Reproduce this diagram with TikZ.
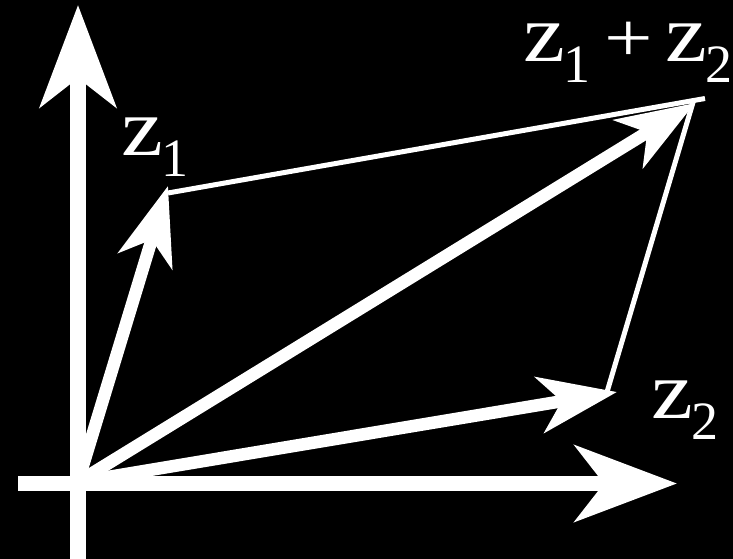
\documentclass[tikz,border=0pt]{standalone}
\usepackage{fontspec}
\setmainfont{Liberation Serif}
\usetikzlibrary{arrows.meta}
\newcommand\myz{\scalebox{1.15}[1]{z}}
\newcommand\mysub[1]{\kern-1.5pt\raisebox{-21pt}{\fontsize{54}{54}\selectfont #1}}
\newcommand\myplus{\scalebox{1.05}[0.85]{+}}
\begin{document}
\begin{tikzpicture}[x=1pt,y=-1pt,line cap=butt,
  axis/.style={draw=white,line width=15.5pt,-{Stealth[length=102pt,width=76pt,inset=29pt]}},
  vec/.style={draw=white,line width=12.5pt,-{Stealth[length=78pt,width=56pt,inset=22pt]}},
  side/.style={draw=white,line width=5pt},
  lbl/.style={text=white,inner sep=0pt,anchor=base west,text height=40pt,text depth=0pt,font=\fontsize{82}{82}\selectfont}]
\fill[black] (0,0) rectangle (733,559);
\useasboundingbox (0,0) rectangle (733,559);
% axes
\coordinate (xs) at (18,483.5);
\coordinate (xe) at (677,483.5);
\coordinate (ys) at (78,559);
\coordinate (ye) at (78,5);
\draw[axis] (xs) -- (xe);
\draw[axis] (ys) -- (ye);
% points
\coordinate (O) at (78,482);
\coordinate (A) at (168,186);
\coordinate (B) at (617,392);
\coordinate (S) at (695,103);
\coordinate (A1) at (168,193);
\coordinate (S1) at (705,98.5);
\coordinate (B1) at (607,392);
\coordinate (S2) at (694,99);
% parallelogram sides
\draw[side] (A1) -- (S1);
\draw[side] (B1) -- (S2);
% vectors
\draw[vec] (O) -- (A);
\draw[vec] (O) -- (B);
\draw[vec] (O) -- (S);
% labels
\node[lbl] (l1) at (121,155) {\myz\mysub{1}};
\node[lbl] (l2) at (651,418) {\myz\mysub{2}};
\node[lbl] (l3) at (523,62) {\myz\mysub{1}\hspace{14pt}\myplus\hspace{12.5pt}\myz\mysub{2}};
\end{tikzpicture}
\end{document}
